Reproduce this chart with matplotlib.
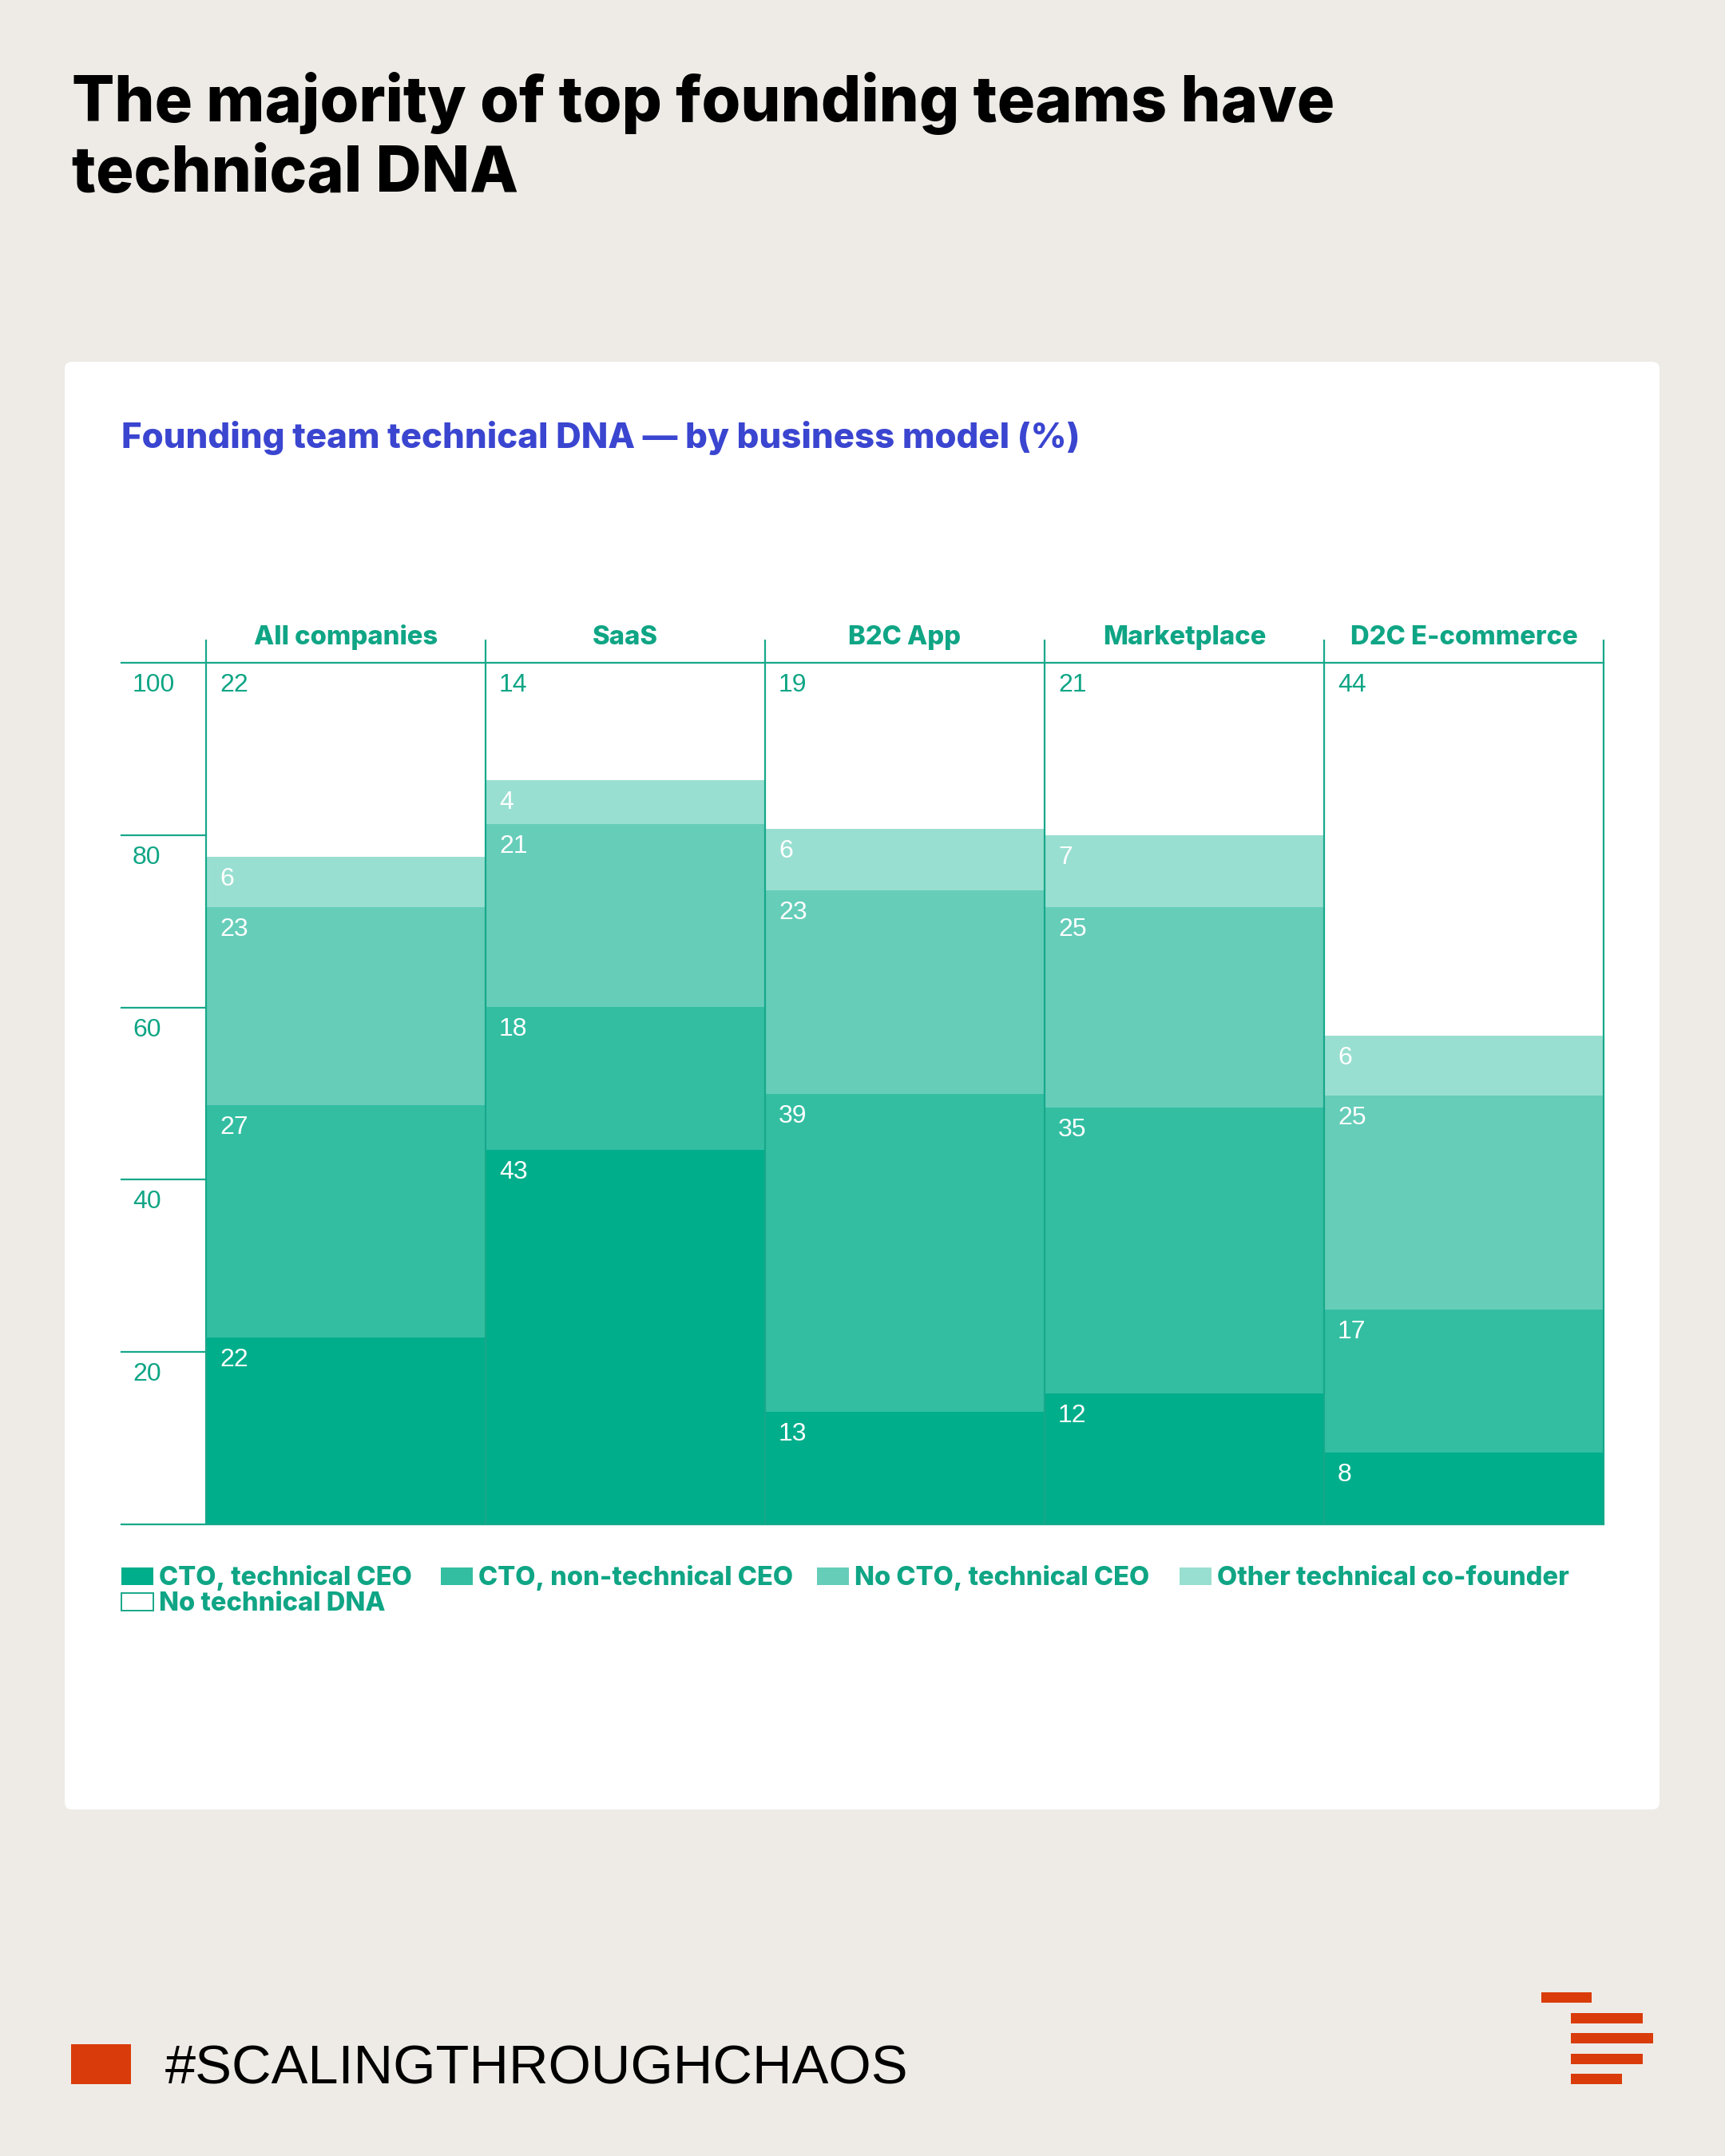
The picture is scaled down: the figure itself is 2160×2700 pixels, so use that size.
import matplotlib
matplotlib.use("Agg")
import matplotlib.pyplot as plt
from matplotlib.patches import FancyBboxPatch, Rectangle

# ==========================================================
# DATA
# ==========================================================

CATEGORIES = ["All companies", "SaaS", "B2C App", "Marketplace", "D2C E-commerce"]

SERIES = [
    "CTO, technical CEO",
    "CTO, non-technical CEO",
    "No CTO, technical CEO",
    "Other technical co-founder",
    "No technical DNA",
]

# printed values (%)
CTO_TECH_CEO = [22, 43, 13, 12, 8]
CTO_NONTECH_CEO = [27, 18, 39, 35, 17]
NO_CTO_TECH_CEO = [23, 21, 23, 25, 25]
OTHER_TECH = [6, 4, 6, 7, 6]
NO_TECH_DNA = [22, 14, 19, 21, 44]

# drawn segment heights (%), as measured on the original chart -
# the source bars do not always match the printed numbers
CTO_TECH_CEO_H = [21.7, 43.5, 13.1, 15.2, 8.3]
CTO_NONTECH_CEO_H = [27.0, 16.6, 36.9, 33.2, 16.6]
NO_CTO_TECH_CEO_H = [22.9, 21.2, 23.6, 23.2, 24.9]
OTHER_TECH_H = [5.9, 5.1, 7.1, 8.4, 6.9]
NO_TECH_DNA_H = [22.5, 13.6, 19.3, 20.0, 43.3]

Y_TICKS = [20, 40, 60, 80, 100]

TITLE_LINES = ["The majority of top founding teams have", "technical DNA"]
SUBTITLE = "Founding team technical DNA \u2014 by business model (%)"
HASHTAG = "#SCALINGTHROUGHCHAOS"

# ==========================================================
# STYLE
# ==========================================================

W, H, DPI = 2160, 2700, 100

BG = "#eeebe6"
LINE = "#17a88a"
GREEN_TEXT = "#0fa585"
BLUE = "#3a45d0"
ORANGE = "#d93c0a"
COLORS = ["#00ae8b", "#33bea2", "#66cdb9", "#99dfd1", "#ffffff"]
LABEL_COLORS = ["white", "white", "white", "white", GREEN_TEXT]

BOLD = ["Inter", "Roboto", "DejaVu Sans"]
REGULAR = ["Liberation Sans", "DejaVu Sans"]

PX = 72 / DPI   # one pixel in points


def px(x, y):
    # pixel position (top-left origin) -> inches for dpi_scale_trans
    return x / DPI, (H - y) / DPI


fig = plt.figure(figsize=(W / DPI, H / DPI), dpi=DPI)
fig.patch.set_facecolor(BG)
tr = fig.dpi_scale_trans

# ==========================================================
# TITLE
# ==========================================================

for i, line in enumerate(TITLE_LINES):
    fig.text(*px(90, 152 + i * 88), line, transform=tr,
             family=BOLD, weight=800, fontsize=56.9, color="black",
             ha="left", va="baseline")

# ==========================================================
# CARD
# ==========================================================

x0, y0 = px(81, 2266)
card = FancyBboxPatch((x0, y0), (2078 - 81) / DPI, (2266 - 453) / DPI,
                      boxstyle="round,pad=0,rounding_size=0.09",
                      transform=tr, facecolor="white", edgecolor="none",
                      zorder=-1)
fig.patches.append(card)

fig.text(*px(152, 561), SUBTITLE, transform=tr,
         family=BOLD, weight=800, fontsize=31.5, color=BLUE,
         ha="left", va="baseline")

# ==========================================================
# STACKED BARS
# ==========================================================

ax = fig.add_axes([258 / W, 1 - 1909 / H, 1750 / W, 1079 / H])
ax.set_xlim(0, len(CATEGORIES))
ax.set_ylim(0, 100)
ax.axis("off")

labels = [CTO_TECH_CEO, CTO_NONTECH_CEO, NO_CTO_TECH_CEO, OTHER_TECH, NO_TECH_DNA]
heights = [CTO_TECH_CEO_H, CTO_NONTECH_CEO_H, NO_CTO_TECH_CEO_H,
           OTHER_TECH_H, NO_TECH_DNA_H]
xs = list(range(len(CATEGORIES)))
bottom = [0] * len(CATEGORIES)

for values, hs, color, lcolor in zip(labels, heights, COLORS, LABEL_COLORS):
    ax.bar(xs, hs, width=1, bottom=bottom, align="edge",
           color=color, linewidth=0, zorder=1)
    for i, (v, h) in enumerate(zip(values, hs)):
        ax.annotate(str(v), xy=(i, bottom[i] + h),
                    xytext=(17 * PX, -13 * PX), textcoords="offset points",
                    ha="left", va="top", family=REGULAR, fontsize=23,
                    color=lcolor, zorder=3)
    bottom = [b + h for b, h in zip(bottom, hs)]

# frame lines
unit_x = 1750 / len(CATEGORIES)
unit_y = 1079 / 100
left_tick = -(258 - 152) / unit_x
head_top = 100 + (830 - 801) / unit_y

for x in range(len(CATEGORIES) + 1):
    ax.plot([x, x], [0, head_top], color=LINE, lw=1.6, clip_on=False,
            zorder=2, solid_capstyle="butt")

ax.plot([left_tick, len(CATEGORIES)], [100, 100], color=LINE, lw=1.6,
        clip_on=False, zorder=2)
ax.plot([left_tick, len(CATEGORIES)], [0, 0], color=LINE, lw=1.6,
        clip_on=False, zorder=2)

for t in Y_TICKS:
    if t < 100:
        ax.plot([left_tick, 0], [t, t], color=LINE, lw=1.6,
                clip_on=False, zorder=2)
    ax.annotate(str(t), xy=(left_tick, t), xytext=(14 * PX, -13 * PX),
                textcoords="offset points", ha="left", va="top",
                family=REGULAR, fontsize=23, color=GREEN_TEXT,
                annotation_clip=False)

for i, name in enumerate(CATEGORIES):
    ax.text(i + 0.5, 100 + (830 - 807) / unit_y, name, ha="center",
            va="baseline", family=BOLD, weight=800, fontsize=23.6,
            color=GREEN_TEXT, clip_on=False)

# ==========================================================
# LEGEND
# ==========================================================

legend_pos = [(152, 1974), (552, 1974), (1023, 1974), (1477, 1974), (152, 2006)]

for (lx, ly), name, color in zip(legend_pos, SERIES, COLORS):
    rx, ry = px(lx, ly + 11)
    fig.patches.append(Rectangle((rx, ry), 40 / DPI, 22 / DPI, transform=tr,
                                 facecolor=color, edgecolor=LINE,
                                 linewidth=1.4 if color == "#ffffff" else 0))
    fig.text(*px(lx + 47, ly + 11), name, transform=tr,
             family=BOLD, weight=800, fontsize=23.5, color=GREEN_TEXT,
             ha="left", va="baseline")

# ==========================================================
# FOOTER
# ==========================================================

fx, fy = px(89, 2610)
fig.patches.append(Rectangle((fx, fy), 75 / DPI, 50 / DPI, transform=tr,
                             facecolor=ORANGE, edgecolor="none"))
fig.text(*px(207, 2610), HASHTAG, transform=tr, family=REGULAR,
         fontsize=49.4, color="black", ha="left", va="baseline")

logo_bars = [(1930, 2495, 63), (1967, 2521, 90), (1967, 2546, 103),
             (1967, 2572, 90), (1967, 2597, 64)]
for bx, by, bw in logo_bars:
    rx, ry = px(bx, by + 13)
    fig.patches.append(Rectangle((rx, ry), bw / DPI, 13 / DPI, transform=tr,
                                 facecolor=ORANGE, edgecolor="none"))

fig.savefig("out.png", dpi=DPI, facecolor=BG)
